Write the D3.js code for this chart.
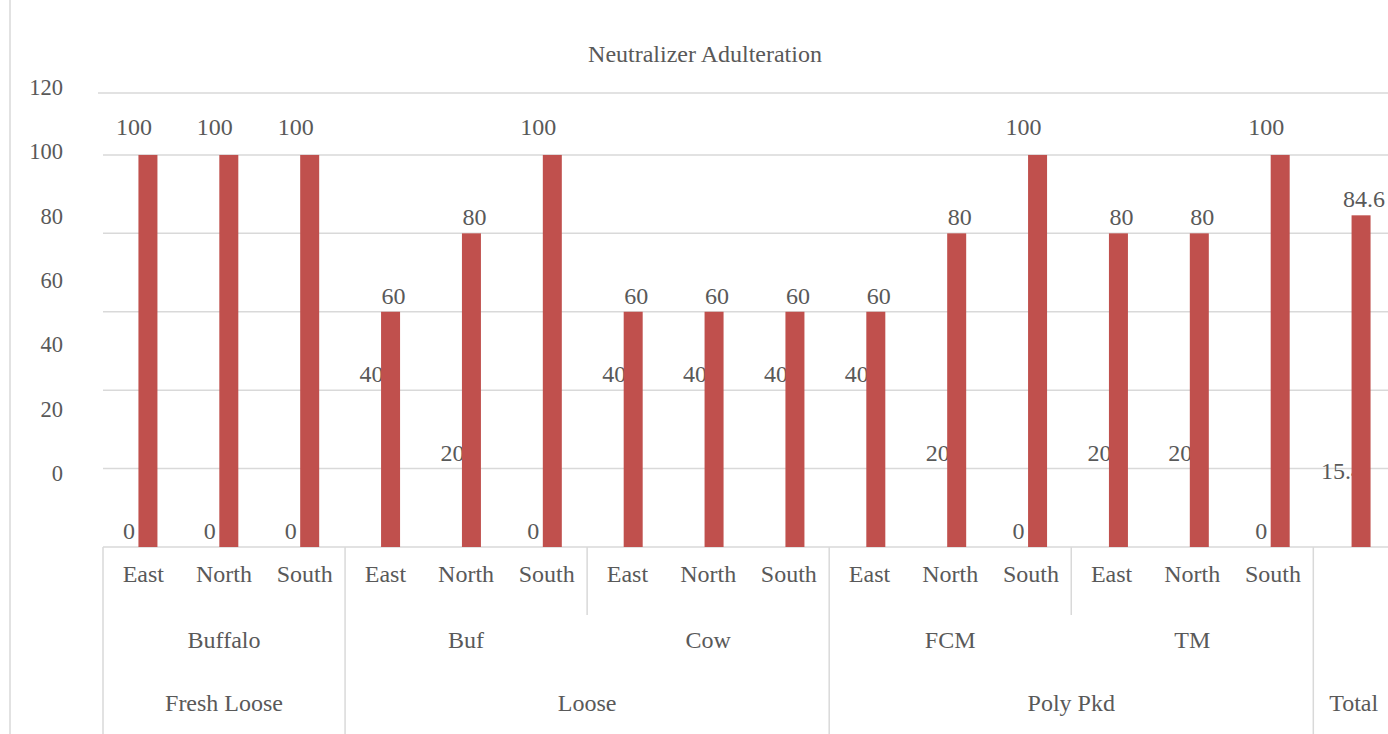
<!DOCTYPE html>
<html>
<head>
<meta charset="utf-8">
<script src="https://cdn.jsdelivr.net/npm/d3@7"></script>
<style>
  body { margin: 0; background: #fff; }
</style>
</head>
<body>
<script>
// chart data
var regions = ["East","North","South","East","North","South","East","North","South",
               "East","North","South","East","North","South",""];
var milkTypes = ["Buffalo","Buffalo","Buffalo","Buf","Buf","Buf","Cow","Cow","Cow",
                 "FCM","FCM","FCM","TM","TM","TM",""];
var packTypes = ["Fresh Loose","Fresh Loose","Fresh Loose","Loose","Loose","Loose","Loose","Loose","Loose",
                 "Poly Pkd","Poly Pkd","Poly Pkd","Poly Pkd","Poly Pkd","Poly Pkd","Total"];
var notAdulterated = [0,0,0, 40,20,0, 40,40,40, 40,20,0, 20,20,0, 15.4];
var adulterated = [100,100,100, 60,80,100, 60,60,60, 60,80,100, 80,80,100, 84.6];
var yTickLabels = [0,20,40,60,80,100,120];
var gridValues = [0,20,40,60,80,100];
var yMax = 115.8;

var width = 1388, height = 734;
var plotLeft = 103, plotRight = 1394, plotBottom = 547, plotTop = 93;
var barW = 19;
var red = "#c0504d", gridCol = "#d9d9d9", textCol = "#595959";
var fontFam = "'Liberation Serif', 'Times New Roman', serif";

var svg = d3.select("body").append("svg")
    .attr("width", width).attr("height", height)
    .attr("font-family", fontFam);

var idx = d3.range(regions.length);
// category axis scale
var x = d3.scaleBand().domain(idx).range([plotLeft, plotRight]).padding(0);
// bars sit slightly left of the axis cells in the reference
var xBar = d3.scaleBand().domain(idx).range([99, 1393]).padding(0);
var y = d3.scaleLinear().domain([0, yMax]).range([plotBottom, plotTop]);
// tick labels sit on their own evenly spaced scale in the reference
var yLab = d3.scaleLinear().domain([0, 120]).range([473, 87]);

// outer left border
svg.append("line").attr("x1", 10).attr("x2", 10).attr("y1", 0).attr("y2", height)
    .attr("stroke", gridCol).attr("stroke-width", 1.5);

// title
svg.append("text").attr("x", 705).attr("y", 62).attr("text-anchor", "middle")
    .attr("fill", textCol).style("font-size", "24px").text("Neutralizer Adulteration");

// gridlines
svg.append("line").attr("x1", 98).attr("x2", width).attr("y1", y(yMax)).attr("y2", y(yMax))
    .attr("stroke", gridCol).attr("stroke-width", 1.5);
svg.selectAll("line.grid").data(gridValues).enter().append("line")
    .attr("class", "grid")
    .attr("x1", plotLeft).attr("x2", width)
    .attr("y1", function(d){ return y(d); }).attr("y2", function(d){ return y(d); })
    .attr("stroke", gridCol).attr("stroke-width", 1.5);

// y tick labels
svg.selectAll("text.ylab").data(yTickLabels).enter().append("text")
    .attr("class", "ylab")
    .attr("x", 63).attr("y", function(d){ return yLab(d); })
    .attr("dy", "0.35em").attr("text-anchor", "end")
    .attr("fill", textCol).style("font-size", "22.5px")
    .text(function(d){ return d; });

function barLeft(i) { return xBar(i) + xBar.bandwidth() / 2 - 1; }

// labels of the hidden series (drawn under the red bars)
svg.selectAll("text.lab0").data(idx).enter().append("text")
    .attr("class", "lab0")
    .attr("x", function(i){ return barLeft(i) - barW / 2; })
    .attr("y", function(i){ return y(notAdulterated[i]) - 8; })
    .attr("text-anchor", "middle")
    .attr("fill", textCol).style("font-size", "24px")
    .text(function(i){ return notAdulterated[i]; });

// red bars
svg.selectAll("rect.bar").data(idx).enter().append("rect")
    .attr("class", "bar")
    .attr("x", function(i){ return barLeft(i); })
    .attr("width", barW)
    .attr("y", function(i){ return y(adulterated[i]); })
    .attr("height", function(i){ return y(0) - y(adulterated[i]); })
    .attr("fill", red);

// red bar labels
svg.selectAll("text.lab1").data(idx).enter().append("text")
    .attr("class", "lab1")
    .attr("x", function(i){
        var c = barLeft(i) + barW / 2;
        return adulterated[i] >= 100 ? c - 14 : c + 3;
    })
    .attr("y", function(i){ return y(adulterated[i]) - (adulterated[i] >= 100 ? 20 : 8); })
    .attr("text-anchor", "middle")
    .attr("fill", textCol).style("font-size", "24px")
    .text(function(i){ return adulterated[i]; });

// category axis: runs of equal labels
function runs(arr) {
    var out = [], s = 0;
    for (var i = 1; i <= arr.length; i++) {
        if (i == arr.length || arr[i] != arr[s]) { out.push({name: arr[s], start: s, end: i}); s = i; }
    }
    return out;
}
var packRuns = runs(packTypes);
var typeRuns = runs(milkTypes);

// leaf labels
svg.selectAll("text.leaf").data(idx).enter().append("text")
    .attr("class", "leaf")
    .attr("x", function(i){ return x(i) + x.bandwidth() / 2; })
    .attr("y", 574).attr("dy", "0.35em").attr("text-anchor", "middle")
    .attr("fill", textCol).style("font-size", "24px")
    .text(function(i){ return regions[i]; })
    .each(function(){
        var b = this.getBBox();
        if (b.x < plotLeft + 1) d3.select(this).attr("x", +d3.select(this).attr("x") + (plotLeft + 1 - b.x));
    });

svg.selectAll("text.type").data(typeRuns).enter().append("text")
    .attr("class", "type")
    .attr("x", function(d){ return (x(d.start) + x(d.end - 1) + x.bandwidth()) / 2; })
    .attr("y", 640).attr("dy", "0.35em").attr("text-anchor", "middle")
    .attr("fill", textCol).style("font-size", "24px")
    .text(function(d){ return d.name; });

svg.selectAll("text.pack").data(packRuns).enter().append("text")
    .attr("class", "pack")
    .attr("x", function(d){ return (x(d.start) + x(d.end - 1) + x.bandwidth()) / 2; })
    .attr("y", 703).attr("dy", "0.35em").attr("text-anchor", "middle")
    .attr("fill", textCol).style("font-size", "24px")
    .text(function(d){ return d.name; });

// separators: pack boundaries go full height, type boundaries only through the leaf row
var packStarts = packRuns.map(function(d){ return d.start; });
svg.selectAll("line.sep").data(typeRuns).enter().append("line")
    .attr("class", "sep")
    .attr("x1", function(d){ return x(d.start); }).attr("x2", function(d){ return x(d.start); })
    .attr("y1", plotBottom)
    .attr("y2", function(d){ return packStarts.indexOf(d.start) >= 0 ? height : 615; })
    .attr("stroke", gridCol).attr("stroke-width", 1.5);
</script>
</body>
</html>
